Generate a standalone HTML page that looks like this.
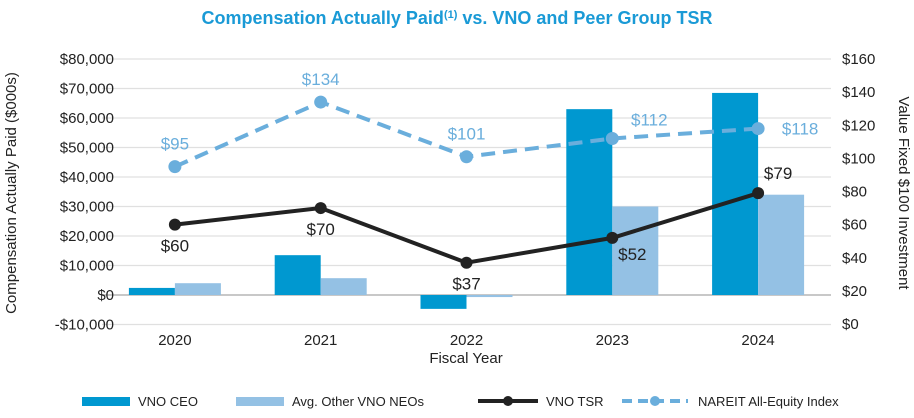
<!DOCTYPE html>
<html><head><meta charset="utf-8"><style>
body{margin:0;background:#fff;font-family:"Liberation Sans",Arial,sans-serif}
svg text{font-family:"Liberation Sans",Arial,sans-serif}
</style></head><body>
<svg id="c" width="914" height="413" viewBox="0 0 914 413" xmlns="http://www.w3.org/2000/svg">
<text x="457" y="24" text-anchor="middle" font-size="18" font-weight="bold" fill="#1a9ad6">Compensation Actually Paid<tspan font-size="11" dy="-6">(1)</tspan><tspan dy="6"> vs. VNO and Peer Group TSR</tspan></text>
<g id="grid"></g><g id="bars"></g><g id="lines"></g><g id="axes"></g>
<text transform="translate(16,193) rotate(-90)" text-anchor="middle" font-size="15" fill="#222">Compensation Actually Paid ($000s)</text>
<text transform="translate(899,193) rotate(90)" text-anchor="middle" font-size="15" fill="#222">Value Fixed $100 Investment</text>
<text x="466" y="363" text-anchor="middle" font-size="15" fill="#222">Fiscal Year</text>
<g>
<g><rect x="82" y="397" width="48" height="9" fill="#0098d0"/><text x="138" y="406" font-size="13" fill="#222">VNO CEO</text></g>
<g><rect x="236" y="397" width="48" height="9" fill="#94c1e4"/><text x="292" y="406" font-size="13" fill="#222">Avg. Other VNO NEOs</text></g>
<g><line x1="478" y1="401" x2="538" y2="401" stroke="#222" stroke-width="4"/><circle cx="508" cy="401" r="5" fill="#222"/><text x="546" y="406" font-size="13" fill="#222">VNO TSR</text></g>
<g><line x1="622" y1="401" x2="688" y2="401" stroke="#6aaedc" stroke-width="4" stroke-dasharray="10,6"/><circle cx="655" cy="401" r="5" fill="#6aaedc"/><text x="698" y="406" font-size="13" fill="#222">NAREIT All-Equity Index</text></g>
</g>
</svg>
<script>
const categories=["2020","2021","2022","2023","2024"];
const ceoCap=[2400,13500,-4700,63000,68500];
const otherCap=[4000,5700,-700,30000,34000];
const vnoTsr=[60,70,37,52,79];
const nareit=[95,134,101,112,118];
const leftTicks=[-10000,0,10000,20000,30000,40000,50000,60000,70000,80000];
const rightTicks=[0,20,40,60,80,100,120,140,160];
const NS="http://www.w3.org/2000/svg";
const X0=102,X1=831,band=(X1-X0)/categories.length,bw=46;
const xc=i=>X0+band*(i+0.5);
const yL=v=>295-v/10000*29.5;
const yR=v=>324-v/160*265;
function mk(p,t,a){const e=document.createElementNS(NS,t);for(const k in a)e.setAttribute(k,a[k]);document.getElementById(p).appendChild(e);return e;}
const fmt=v=>(v<0?"-$":"$")+Math.abs(v).toLocaleString("en-US");
leftTicks.forEach(v=>{
 const g=mk("grid","line",{x1:X0,x2:X1,y1:yL(v),y2:yL(v),stroke:v===0?"#c8c8c8":"#e0e0e0","stroke-width":v===0?2:1.3});
 
 
 const t=mk("axes","text",{x:114,y:yL(v)+5,"text-anchor":"end","font-size":15,fill:"#222"});t.textContent=fmt(v);
 
 
});
rightTicks.forEach(v=>{
 const t=mk("axes","text",{x:842,y:yR(v)+5,"font-size":15,fill:"#222"});t.textContent="$"+v;
 
 
});
categories.forEach((c,i)=>{
 const t=mk("axes","text",{x:xc(i),y:345,"text-anchor":"middle","font-size":15,fill:"#222"});t.textContent=c;
 
 
 const a=ceoCap[i],b=otherCap[i];
 const r1=mk("bars","rect",{x:xc(i)-bw,y:Math.min(yL(a),yL(0)),width:bw,height:Math.abs(yL(a)-yL(0)),fill:"#0098d0"});
 
 
 const r2=mk("bars","rect",{x:xc(i),y:Math.min(yL(b),yL(0)),width:bw,height:Math.abs(yL(b)-yL(0)),fill:"#94c1e4"});
 
 
});
const p1=mk("lines","polyline",{points:nareit.map((v,i)=>xc(i)+","+yR(v)).join(" "),fill:"none",stroke:"#6aaedc","stroke-width":4,"stroke-dasharray":"14,8"});


const p2=mk("lines","polyline",{points:vnoTsr.map((v,i)=>xc(i)+","+yR(v)).join(" "),fill:"none",stroke:"#222","stroke-width":4});


nareit.forEach((v,i)=>{
 const c=mk("lines","circle",{cx:xc(i),cy:yR(v),r:6.5,fill:"#6aaedc"});
 
 
 const dx=i===3?37:(i===4?42:0);
 const dy=i===3?-13:(i===4?6:-17);
 const t=mk("lines","text",{x:xc(i)+dx,y:yR(v)+dy,"text-anchor":"middle","font-size":17,fill:"#6aaedc"});t.textContent="$"+v;
 
 
});
vnoTsr.forEach((v,i)=>{
 const c=mk("lines","circle",{cx:xc(i),cy:yR(v),r:6,fill:"#222"});
 
 
 const dy=i===4?-14:(i===3?22:27);const dx=i>=3?20:0;
 const t=mk("lines","text",{x:xc(i)+dx,y:yR(v)+dy,"text-anchor":"middle","font-size":17,fill:"#222"});t.textContent="$"+v;
 
 
});
</script>
</body></html>
